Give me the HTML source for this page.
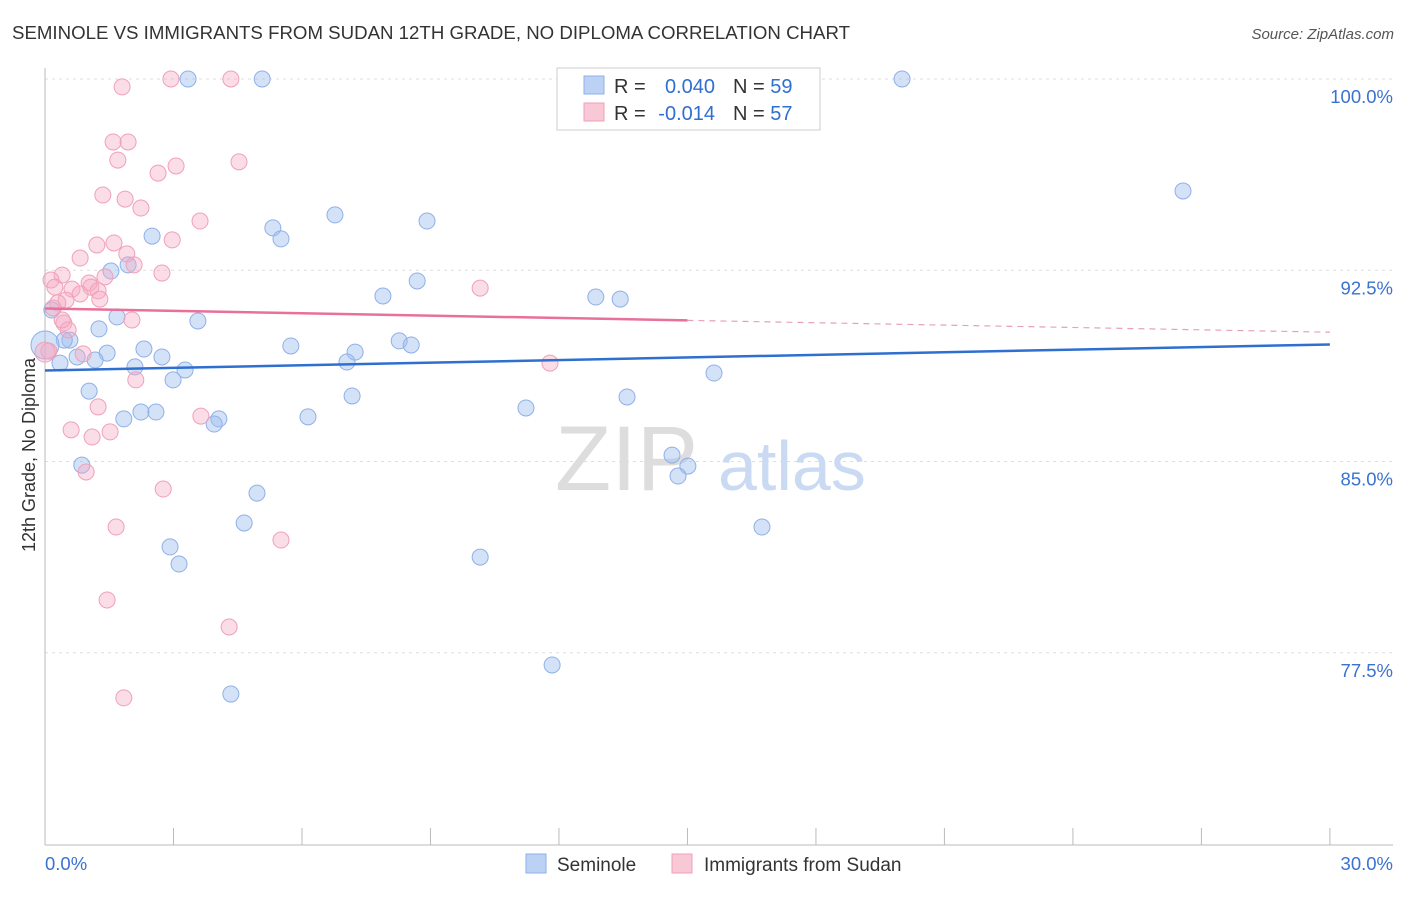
<!DOCTYPE html>
<html><head><meta charset="utf-8"><style>
body{margin:0;background:#fff;font-family:"Liberation Sans",sans-serif;}
svg text{font-family:"Liberation Sans",sans-serif;}
</style></head><body>
<svg width="1406" height="892" viewBox="0 0 1406 892">
<text x="12" y="39" font-size="18" fill="#333" textLength="838" lengthAdjust="spacingAndGlyphs">SEMINOLE VS IMMIGRANTS FROM SUDAN 12TH GRADE, NO DIPLOMA CORRELATION CHART</text>
<text x="1394" y="39" font-size="15" fill="#555" font-style="italic" text-anchor="end">Source: ZipAtlas.com</text>
<g id="grid"></g>
<g>
<text x="555" y="490" font-size="92" fill="#ddd" font-family="Liberation Serif">ZIP</text>
<text x="718" y="490" font-size="70" fill="#c9daf2">atlas</text>
</g>
<g id="axes"></g>
<g id="pts"></g>
<g id="trend"></g>
<text x="35" y="455" font-size="18" fill="#333" text-anchor="middle" transform="rotate(-90 35 455)">12th Grade, No Diploma</text>
<g>
<rect x="557" y="68" width="263" height="62" fill="#fff" stroke="#ccc"/>
<rect x="584" y="76" width="20" height="18" fill="#bcd2f5" stroke="#8fb0e8"/>
<text x="614" y="93" font-size="20" fill="#333">R = </text>
<text x="715" y="93" font-size="20" fill="#2f6fd0" text-anchor="end">0.040</text>
<text x="733" y="93" font-size="20" fill="#333">N = <tspan fill="#2f6fd0">59</tspan></text>
<rect x="584" y="103" width="20" height="18" fill="#f9c8d6" stroke="#f0a0b8"/>
<text x="614" y="120" font-size="20" fill="#333">R = </text>
<text x="715" y="120" font-size="20" fill="#2f6fd0" text-anchor="end">-0.014</text>
<text x="733" y="120" font-size="20" fill="#333">N = <tspan fill="#2f6fd0">57</tspan></text>
</g>
<g>
<rect x="526" y="854" width="20" height="19" fill="#bcd2f5" stroke="#8fb0e8"/>
<text x="557" y="871" font-size="19" fill="#333">Seminole</text>
<rect x="672" y="854" width="20" height="19" fill="#f9c8d6" stroke="#f0a0b8"/>
<text x="704" y="871" font-size="19" fill="#333">Immigrants from Sudan</text>
</g>
</svg>
<script>
const yTicks=[100,92.5,85,77.5];
const yTickLabels=["100.0%","92.5%","85.0%","77.5%"];
const xTickLabels=["0.0%","30.0%"];
const blueX=[3.34,5.07,20.01,26.57,6.77,8.92,5.32,5.51,2.50,1.54,1.94,8.69,7.89,12.86,13.43,1.68,3.57,1.26,0.58,5.74,8.27,8.55,2.31,7.24,1.45,2.73,0.75,1.17,7.05,0.35,2.10,3.27,2.99,15.62,1.03,7.17,13.59,11.23,2.24,2.59,1.84,4.06,3.95,6.14,14.64,15.01,14.78,0.86,4.95,4.65,16.74,2.92,3.13,10.16,11.84,4.34,0.16,0.45];
const blueY=[100,100,100,95.61,94.67,94.43,94.16,93.73,93.84,92.47,92.71,92.08,91.49,91.45,91.37,90.67,90.51,90.20,89.76,89.53,89.73,89.57,89.41,89.29,89.25,89.10,89.10,88.98,88.90,88.86,88.71,88.59,88.20,88.47,87.76,87.57,87.53,87.10,86.94,86.94,86.67,86.67,86.47,86.75,85.25,84.82,84.43,84.86,83.76,82.59,82.43,81.65,80.98,81.25,77.02,75.88,90.94,89.76];
const pinkX=[1.80,2.94,4.34,1.59,1.94,1.70,4.53,3.06,2.64,1.35,1.87,2.24,3.62,2.97,1.21,1.61,1.91,0.82,2.08,2.73,0.40,0.14,1.40,1.03,0.23,0.63,1.07,1.24,0.82,0.49,1.28,10.16,0.30,0.19,0.44,0.54,2.03,0.40,0.89,0.09,11.79,2.12,1.24,3.64,0.61,1.52,1.10,0.96,2.76,1.66,5.51,1.45,4.30,1.84];
const pinkY=[99.69,100,100,97.53,97.53,96.82,96.75,96.59,96.31,95.45,95.29,94.94,94.43,93.69,93.49,93.57,93.14,92.98,92.71,92.39,92.31,92.12,92.24,92.00,91.84,91.76,91.84,91.69,91.57,91.33,91.37,91.80,91.22,91.02,90.43,90.16,90.55,90.55,89.22,89.33,88.86,88.20,87.14,86.78,86.24,86.16,85.96,84.59,83.92,82.43,81.92,79.57,78.51,75.73];
const blueTrend=[88.57,89.59];
const pinkTrend=[91.0,90.07];
const pinkSolidEnd=15;
const NS="http://www.w3.org/2000/svg";
const X=v=>45+v*42.83, Y=v=>79+(100-v)*25.5;
function mk(t,a,p){const e=document.createElementNS(NS,t);for(const k in a)e.setAttribute(k,a[k]);p.appendChild(e);return e;}
const grid=document.getElementById('grid'),axes=document.getElementById('axes'),pts=document.getElementById('pts'),tr=document.getElementById('trend');
yTicks.forEach((v,i)=>{
 const l=mk('line',{x1:45,x2:1393,y1:Y(v),y2:Y(v),stroke:'#ddd','stroke-dasharray':'3,4'},grid);
 
 
 const t=mk('text',{x:1393,y:Y(v)+24,'font-size':18.5,fill:'#3a72d0','text-anchor':'end'},axes);t.textContent=yTickLabels[i];
 
 
});
let ax=mk('line',{x1:45,x2:45,y1:68,y2:845,stroke:'#bbb'},axes);


ax=mk('line',{x1:45,x2:1393,y1:845,y2:845,stroke:'#bbb'},axes);


for(let i=1;i<=10;i++){const tk=mk('line',{x1:X(i*3),x2:X(i*3),y1:828,y2:845,stroke:'#bbb'},axes);
 
 }
[[0,'start',45],[30,'end',1393]].forEach((d,i)=>{const t=mk('text',{x:d[2],y:870,'font-size':18.5,fill:'#3a72d0','text-anchor':d[1]},axes);t.textContent=xTickLabels[i];
 
 });
blueX.forEach((v,i)=>{const c=mk('circle',{cx:X(v),cy:Y(blueY[i]),r:8,fill:'rgba(160,190,240,0.45)',stroke:'#8fb0e8','stroke-width':1},pts);
 
 });
let big=mk('circle',{cx:X(0),cy:Y(89.57),r:14,fill:'rgba(160,190,240,0.45)',stroke:'#8fb0e8'},pts);


pinkX.forEach((v,i)=>{const c=mk('circle',{cx:X(v),cy:Y(pinkY[i]),r:8,fill:'rgba(245,170,195,0.4)',stroke:'#f0a0b8','stroke-width':1},pts);
 
 });
big=mk('circle',{cx:X(0),cy:Y(89.29),r:10,fill:'rgba(245,170,195,0.4)',stroke:'#f0a0b8'},pts);


let l=mk('line',{x1:X(0),y1:Y(blueTrend[0]),x2:X(30),y2:Y(blueTrend[1]),stroke:'#2f6fd0','stroke-width':2.5},tr);


const pm=pinkTrend[0]+(pinkTrend[1]-pinkTrend[0])*pinkSolidEnd/30;
l=mk('line',{x1:X(0),y1:Y(pinkTrend[0]),x2:X(pinkSolidEnd),y2:Y(pm),stroke:'#e8709a','stroke-width':2.5},tr);


l=mk('line',{x1:X(pinkSolidEnd),y1:Y(pm),x2:X(30),y2:Y(pinkTrend[1]),stroke:'#e8a0b8','stroke-width':1.2,'stroke-dasharray':'6,5'},tr);


</script>
</body></html>
